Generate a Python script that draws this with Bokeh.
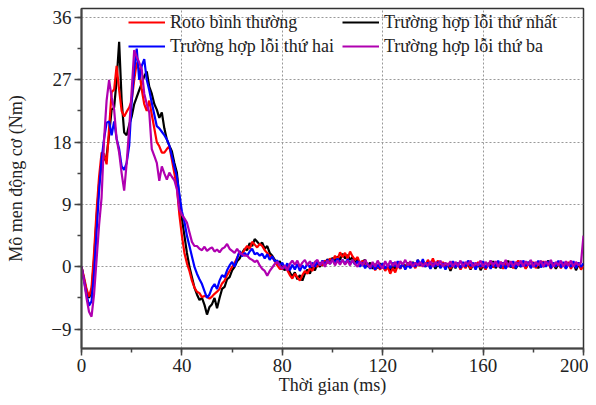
from bokeh.plotting import figure
from bokeh.models import Legend, LegendItem, SingleIntervalTicker, Range1d
from bokeh.embed import file_html
from bokeh.resources import INLINE

# time axis (ms), 1 ms step
t = list(range(0, 201))

# Roto bình thường (red)
red = [0, -1.5, -3.2, -4.3, -3.0, 2.0, 8.0, 13.0, 16.5, 16.3,
       14.8, 20.0, 25.2, 25.6, 29.0, 25.5, 22.5, 21.7, 22.4, 23.0,
       24.0, 27.0, 29.5, 28.5, 25.6, 23.5, 22.5, 24.0, 22.0, 20.0,
       18.0, 17.4, 16.5, 16.5, 17.0, 17.4, 15.5, 13.5, 11.5, 7.5,
       4.5, 2.0, 0.5, -0.6, -2.0, -3.0, -3.6, -3.8, -4.4, -4.2,
       -4.3, -4.6, -4.3, -3.9, -3.6, -3.2, -2.4, -2.0, -1.2, -0.6,
       0.0, 0.5, 1.3, 2.1, 1.8, 2.5, 3.0, 2.6, 3.6, 3.2,
       2.8, 3.3, 3.0, 2.4, 2.0, 1.6, 1.4, 0.8, 0.2, -0.3,
       -0.3, 0.2, -0.5, -1.2, -1.7, -1.0, -1.5, -2.0, -1.2, -0.6,
       -1.0, -0.2, -0.6, 0.3, 0.0, 0.6, 0.2, 0.9, 0.5, 1.2,
       0.8, 1.6, 1.0, 2.1, 1.4, 2.0, 1.2, 2.2, 1.5, 1.0,
       1.4, 0.4, 0.9, 0.0, 0.5, -0.2, 0.3, -0.5, 0.2, -0.4,
       0.3, -0.6, 0.0, -1.0, -0.2, -0.8, 0.2, -0.3, 0.4, -0.2,
       0.5, 0.0, 0.6, -0.2, 0.7, 0.1, 0.8, 0.2, 1.0, 0.3,
       1.2, 0.2, 0.9, 0.0, 0.7, -0.2, 0.5, -0.3, 0.6, -0.1,
       0.5, -0.4, 0.3, -0.2, 0.6, -0.3, 0.4, 0.0, 0.7, -0.2,
       0.4, -0.4, 0.3, 0.8, -0.1, 0.6, 0.0, 0.7, -0.3, 0.5,
       0.0, 0.6, -0.2, 0.4, 0.9, 0.1, 0.6, -0.3, 0.5, 0.0,
       0.7, -0.2, 0.4, 0.0, 0.8, 0.1, 0.5, -0.3, 0.4, 0.0,
       0.6, -0.2, 0.5, 0.0, 0.7, -0.3, 0.4, 0.0, 0.6, -0.4,
       0.2]

# Trường hợp lỗi thứ nhất (black)
black = [0, -1.8, -3.5, -4.5, -3.6, 1.0, 7.0, 12.0, 15.0, 15.5,
         16.0, 19.0, 22.7, 23.0, 27.0, 32.5, 24.0, 19.4, 19.0, 20.5,
         21.7, 23.5, 24.5, 25.5, 26.5, 27.5, 28.2, 26.0, 25.0, 23.5,
         22.7, 21.5, 22.3, 20.0, 18.4, 17.5, 16.7, 15.0, 13.6, 10.0,
         7.0, 4.5, 2.0, 0.0, -1.5, -3.0, -4.0, -4.8, -4.5, -5.5,
         -6.9, -5.8, -5.4, -4.5, -6.0, -4.5, -3.2, -2.9, -1.8, -1.5,
         -0.5, 0.0, 0.8, 1.2, 2.0, 2.6, 2.4, 3.4, 3.0, 4.0,
         3.6, 3.2, 3.5, 2.6, 3.0, 2.0, 1.6, 1.0, 0.4, 0.8,
         -0.2, -0.5, 0.2, -0.8, -1.4, -0.8, -1.8, -1.2, -2.0, -1.0,
         -0.4, -1.0, 0.0, -0.5, 0.5, 0.0, 0.8, 0.3, 1.1, 0.6,
         1.3, 0.8, 1.5, 1.0, 1.9, 1.2, 1.7, 1.0, 1.4, 0.5,
         1.1, 0.2, 0.8, 1.0, 0.0, 0.6, -0.3, 0.4, -0.2, 0.5,
         0.0, -0.4, 0.3, -0.6, 0.2, -0.3, 0.4, -0.2, 0.5, 0.0,
         0.6, -0.1, 0.7, 0.0, 1.0, 0.2, 0.8, 0.0, 0.6, -0.2,
         0.5, -0.3, 0.4, -0.1, 0.6, 0.0, 0.4, -0.6, 0.3, -0.2,
         0.5, -0.3, 0.6, 0.0, 0.4, -0.4, 0.3, -0.2, 0.6, -0.5,
         0.2, -0.3, 0.5, 0.0, 0.8, -0.2, 0.5, -0.2, 0.6, 0.0,
         0.9, -0.1, 0.5, -0.3, 0.4, 0.0, 0.6, -0.2, 0.4, 0.9,
         0.0, 0.5, -0.2, 0.6, 0.0, 0.4, 0.9, -0.1, 0.5, -0.3,
         0.4, 0.0, 0.6, -0.2, 0.5, 0.0, 0.6, -0.5, 0.3, -0.2,
         0.4]

# Trường hợp lỗi thứ hai (blue)
blue = [0, -2.0, -4.0, -5.6, -5.0, -1.0, 5.0, 11.0, 15.5, 18.5,
        20.8, 21.0, 19.0, 21.0, 18.5, 17.0, 14.5, 14.0, 15.0, 17.5,
        24.0, 28.5, 31.5, 27.0, 29.0, 30.0, 27.0, 25.5, 23.7, 22.0,
        20.3, 20.0, 19.5, 19.0, 18.4, 17.5, 16.0, 14.5, 13.0, 10.5,
        8.0, 6.5, 4.5, 3.0, 1.5, 0.0, -1.0, -1.8, -2.5, -3.5,
        -4.5, -4.0, -3.0, -2.5, -3.2, -2.0, -1.2, -1.5, -0.5, 0.2,
        0.7, 0.0, 1.2, 2.3, 1.5, 2.0, 1.6, 2.2, 2.6, 1.8,
        2.0, 1.6, 1.9, 1.2, 1.8, 1.0, 1.5, 0.8, 0.9, 0.2,
        0.6, -0.2, 0.5, -0.5, 0.3, -0.4, 0.4, -0.6, 0.2, -0.3,
        0.5, -0.1, 0.6, 0.0, 0.8, 0.2, 0.9, 0.3, 1.0, 0.4,
        1.1, 0.5, 1.2, 0.6, 1.0, 0.4, 1.1, 0.5, 0.9, 0.3,
        0.8, 0.0, 0.6, -0.2, 0.5, -0.3, 0.4, -0.4, 0.3, -0.2,
        0.5, -0.3, 0.4, -0.2, 0.6, 0.0, 0.8, -0.2, 0.5, -0.4,
        0.3, -0.2, 0.6, 0.0, 1.0, 0.2, 1.1, 0.0, 0.6, -0.3,
        0.5, 0.0, 0.7, -0.2, 0.5, -0.4, 0.4, 0.0, 0.8, -0.1,
        0.6, -0.2, 0.7, 0.0, 0.9, 0.1, 0.6, -0.4, 0.4, 0.0,
        0.8, -0.2, 0.5, -0.3, 0.6, 0.0, 0.9, -0.1, 0.6, -0.3,
        0.5, 0.0, 0.8, -0.2, 0.6, 0.0, 0.9, 0.1, 0.7, -0.2,
        0.6, 0.0, 0.9, -0.1, 0.7, 0.0, 0.8, -0.2, 0.6, 0.0,
        0.9, -0.1, 0.7, -0.3, 0.5, 0.0, 0.8, -0.2, 0.6, 0.0,
        0.5]

# Trường hợp lỗi thứ ba (purple)
purple = [0, -2.0, -4.5, -6.5, -7.2, -4.0, 1.0, 6.0, 10.0, 18.4,
          24.0, 27.0, 24.5, 22.7, 18.4, 16.5, 13.5, 11.0, 15.0, 20.0,
          25.5, 31.3, 30.3, 29.5, 28.5, 25.0, 23.5, 22.3, 17.0, 16.0,
          15.0, 12.4, 14.5, 13.5, 12.6, 13.6, 13.0, 12.5, 11.2, 8.3,
          7.5, 7.0, 6.4, 5.0, 3.6, 3.0, 3.0, 2.6, 2.4, 2.9,
          2.3, 2.6, 2.8, 2.2, 2.5, 2.1, 2.6, 2.8, 3.3, 2.6,
          2.3, 2.0, 2.6, 2.0, 1.8, 1.6, 1.6, 1.2, 1.0, 0.7,
          0.9, 0.2, -0.3, -0.6, -1.3, -0.6, -0.1, 0.4, 0.7, 0.2,
          -0.3, 0.2, -0.5, 0.4, 0.9, 0.3, 0.9, 0.0, 0.6, 1.0,
          0.2, 0.8, 0.0, 0.7, 1.0, 0.2, 0.8, 0.0, 0.9, 0.4,
          1.0, 0.2, 0.9, 0.3, 1.0, 0.3, 0.9, 0.2, 1.0, 0.4,
          0.0, 0.8, 0.2, 1.0, 0.3, -0.1, 0.7, 0.0, 0.9, 0.2,
          -0.2, 0.8, 0.0, 0.9, 0.1, 0.7, -0.1, 0.8, 0.3, 1.0,
          0.2, 0.8, 0.0, 0.6, 0.2, 0.7, 0.0, 0.6, 0.1, 0.8,
          0.0, 0.7, 0.2, 0.9, 0.0, 0.6, 0.2, 0.8, 0.0, 0.7,
          0.1, 0.9, 0.0, 0.7, 0.3, 0.9, 0.0, 0.6, 0.2, 0.9,
          0.0, 0.7, 0.1, 0.9, 0.2, 0.8, 0.0, 0.7, 0.2, 1.0,
          0.1, 0.8, 0.0, 0.7, 0.2, 0.9, 0.0, 0.8, 0.2, 1.0,
          0.0, 0.7, 0.2, 0.9, 0.0, 0.8, 0.2, 1.0, 0.0, 0.7,
          0.2, 0.9, 0.0, 0.8, 0.1, 0.9, 0.0, 0.7, 0.2, 0.6,
          4.5]

labels = ["Roto bình thường", "Trường hợp lỗi thứ nhất",
          "Trường hợp lỗi thứ hai", "Trường hợp lỗi thứ ba"]

FONT = "Liberation Serif"

p = figure(width=588, height=397, output_backend="svg", toolbar_location=None,
           x_range=Range1d(0, 200), y_range=Range1d(-11.8, 37.3),
           min_border_left=81, min_border_right=5, min_border_top=8,
           min_border_bottom=47)

p.outline_line_color = "#333333"
p.outline_line_width = 1.5
p.background_fill_color = "white"
p.border_fill_color = "white"

r_black = p.line(t, black, line_color="#000000", line_width=2.2)
r_red = p.line(t, red, line_color="#ff0000", line_width=2.2)
r_blue = p.line(t, blue, line_color="#0000ff", line_width=2.2)
r_purple = p.line(t, purple, line_color="#b000b0", line_width=2.2)

p.xaxis.ticker = SingleIntervalTicker(interval=40, num_minor_ticks=2)
p.yaxis.ticker = SingleIntervalTicker(interval=9, num_minor_ticks=2)

for ax in (p.xaxis[0], p.yaxis[0]):
    ax.axis_line_color = "#444444"
    ax.axis_line_width = 2
    ax.major_tick_line_color = "#444444"
    ax.major_tick_line_width = 1.5
    ax.minor_tick_line_color = "#444444"
    ax.minor_tick_line_width = 1.5
    ax.major_tick_in = 0
    ax.major_tick_out = 7
    ax.minor_tick_in = 0
    ax.minor_tick_out = 4
    ax.major_label_text_font = FONT
    ax.major_label_text_font_size = "19px"
    ax.major_label_text_color = "#222222"
    ax.axis_label_text_font = FONT
    ax.axis_label_text_font_size = "18px"
    ax.axis_label_text_font_style = "normal"
    ax.axis_label_text_color = "#222222"

p.xaxis.axis_label = "Thời gian (ms)"
p.yaxis.axis_label = "Mô men động cơ (Nm)"
p.xaxis.major_label_standoff = 3
p.xaxis.axis_label_standoff = 0
p.yaxis.major_label_standoff = 3
p.yaxis.axis_label_standoff = 22

for g in (p.xgrid[0], p.ygrid[0]):
    g.grid_line_color = "#999999"
    g.grid_line_dash = "2 2"
    g.grid_line_width = 1

leg1 = Legend(items=[LegendItem(label=labels[0], renderers=[r_red]),
                     LegendItem(label=labels[2], renderers=[r_blue])],
              location=(47, 290))
leg2 = Legend(items=[LegendItem(label=labels[1], renderers=[r_black]),
                     LegendItem(label=labels[3], renderers=[r_purple])],
              location=(261, 290))
for lg in (leg1, leg2):
    lg.background_fill_alpha = 0
    lg.border_line_alpha = 0
    lg.padding = 0
    lg.margin = 0
    lg.spacing = 0
    lg.glyph_width = 37
    lg.glyph_height = 24
    lg.label_height = 24
    lg.label_standoff = 5
    lg.label_text_font = FONT
    lg.label_text_font_size = "18px"
    lg.label_text_color = "#222222"
    lg.label_text_baseline = "middle"
    p.add_layout(lg)

open("out.html", "w").write(file_html(p, INLINE))
